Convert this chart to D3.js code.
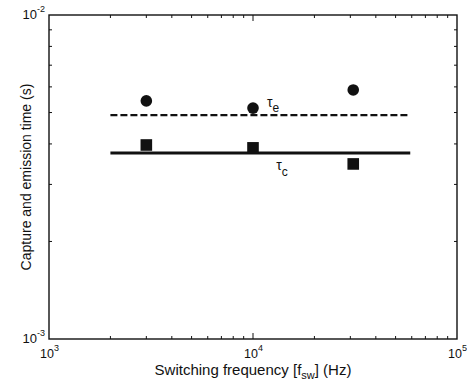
<!DOCTYPE html>
<html><head><meta charset="utf-8">
<script src="https://cdn.jsdelivr.net/npm/d3@7"></script>
<style>body{margin:0;background:#fff}text{font-family:"Liberation Sans",Arial,sans-serif;fill:#111}</style>
</head><body><svg id="c" width="467" height="381"></svg>
<script>
const freqs = [3000, 10000, 31000];
const emission = [5.43e-3, 5.16e-3, 5.87e-3];
const capture = [3.97e-3, 3.89e-3, 3.47e-3];
const fitRange = [2000, 59000];
const tauE = 4.91e-3;
const tauC = 3.75e-3;
const xTicks = [1e3, 1e4, 1e5];
const xTickExp = ["3", "4", "5"];
const yTicks = [1e-3, 1e-2];
const yTickExp = ["-3", "-2"];

const svg = d3.select("#c");
const L = 49, R = 457, T = 15, B = 339;
const x = d3.scaleLog().domain([1e3, 1e5]).range([L, R]);
const y = d3.scaleLog().domain([1e-3, 1e-2]).range([B, T]);

// frame
svg.append("rect").attr("x", L).attr("y", T).attr("width", R - L).attr("height", B - T)
  .attr("fill", "none").attr("stroke", "#111").attr("stroke-width", 1.4);

// minor ticks
const xMinor = [];
for (let d = 1e3; d < 1e5; d *= 10) for (let k = 2; k <= 9; k++) xMinor.push(d * k);
const yMinor = [];
for (let k = 2; k <= 9; k++) yMinor.push(1e-3 * k);
const tg = svg.append("g").attr("stroke", "#111").attr("stroke-width", 1);
xMinor.forEach(v => {
  tg.append("line").attr("x1", x(v)).attr("x2", x(v)).attr("y1", B).attr("y2", B - 3);
  tg.append("line").attr("x1", x(v)).attr("x2", x(v)).attr("y1", T).attr("y2", T + 3);
});
yMinor.forEach(v => {
  tg.append("line").attr("y1", y(v)).attr("y2", y(v)).attr("x1", L).attr("x2", L + 3);
  tg.append("line").attr("y1", y(v)).attr("y2", y(v)).attr("x1", R).attr("x2", R - 3);
});
tg.append("line").attr("x1", x(1e4)).attr("x2", x(1e4)).attr("y1", B).attr("y2", B - 6);
tg.append("line").attr("x1", x(1e4)).attr("x2", x(1e4)).attr("y1", T).attr("y2", T + 6);

// tick labels
xTicks.forEach((v, i) => {
  const t = svg.append("text").attr("x", x(v) - 9).attr("y", B + 18.5).attr("text-anchor", "start")
    .attr("font-size", 12.5).text("10");
  t.append("tspan").attr("dy", -7).attr("font-size", 9).text(xTickExp[i]);
});
yTicks.forEach((v, i) => {
  const t = svg.append("text").attr("x", L - 4).attr("y", y(v) + 4).attr("text-anchor", "end")
    .attr("font-size", 13).text("10");
  t.append("tspan").attr("dy", -7).attr("font-size", 9).text(yTickExp[i]);
});

// fit lines
svg.append("line").attr("x1", x(fitRange[0])).attr("x2", x(fitRange[1]))
  .attr("y1", y(tauE)).attr("y2", y(tauE)).attr("stroke", "#111").attr("stroke-width", 2.2)
  .attr("stroke-dasharray", "7,3");
svg.append("line").attr("x1", x(fitRange[0])).attr("x2", x(fitRange[1]))
  .attr("y1", y(tauC)).attr("y2", y(tauC)).attr("stroke", "#111").attr("stroke-width", 2.8);

// markers
svg.selectAll("circle.e").data(freqs).enter().append("circle")
  .attr("cx", d => x(d)).attr("cy", (d, i) => y(emission[i])).attr("r", 5.8).attr("fill", "#111");
svg.selectAll("rect.c").data(freqs).enter().append("rect")
  .attr("x", d => x(d) - 5.8).attr("y", (d, i) => y(capture[i]) - 5.8)
  .attr("width", 11.6).attr("height", 11.6).attr("fill", "#111");

// line labels
const le = svg.append("text").attr("x", x(1.17e4)).attr("y", y(tauE) - 8).attr("font-size", 14).text("τ");
le.append("tspan").attr("dy", 5).attr("font-size", 12).text("e");
const lc = svg.append("text").attr("x", x(1.3e4)).attr("y", y(tauC) + 17).attr("font-size", 14).text("τ");
lc.append("tspan").attr("dy", 6).attr("font-size", 12).text("c");

// axis titles
const xt = svg.append("text").attr("x", (L + R) / 2).attr("y", 375).attr("text-anchor", "middle")
  .attr("font-size", 15).text("Switching frequency [f");
xt.append("tspan").attr("dy", 4).attr("font-size", 11).text("sw");
xt.append("tspan").attr("dy", -4).text("] (Hz)");
svg.append("text").attr("transform", `translate(31,${(T + B) / 2}) rotate(-90)`)
  .attr("text-anchor", "middle").attr("font-size", 14).text("Capture and emission time (s)");
</script></body></html>
